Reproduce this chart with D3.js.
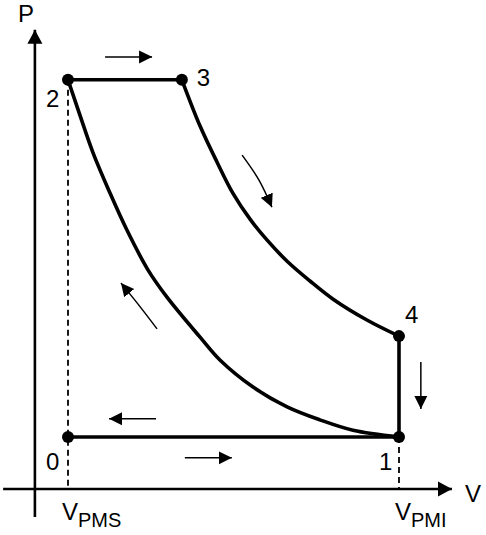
<!DOCTYPE html>
<head>
  <meta charset="utf-8">
  <title>Ciclo Otto: diagrama P-V</title>
  <script src="https://d3js.org/d3.v7.min.js"></script>
  <style>
    body { margin: 0; background: #fff; }
    text { font-family: "Liberation Sans", Arial, sans-serif; fill: #000; }
  </style>
</head>
<body>
<svg width="486" height="535"></svg>
<script>

// Volumes in units of V_PMS (V_PMS = 1, V_PMI = 11), pressures in arbitrary units
var stateNames = ["0", "1", "2", "3", "4"];
var stateV = [1, 11, 1, 4.44, 11];
var stateP = [1, 1, 7.87, 7.87, 2.94];

// compression 1 -> 2 (listed from 2 to 1)
var compV = [1, 1.36, 1.76, 2.27, 2.78, 3.42, 3.99, 4.99, 5.59, 6.59, 7.62, 8.61, 9.61, 11];
var compP = [7.87, 7.19, 6.46, 5.69, 4.98, 4.21, 3.69, 2.92, 2.48, 1.96, 1.58, 1.33, 1.13, 1.0];

// expansion 3 -> 4
var expV = [4.44, 4.99, 5.50, 5.98, 6.50, 7.01, 7.62, 8.31, 9.01, 10.03, 11];
var expP = [7.87, 6.98, 6.29, 5.69, 5.19, 4.79, 4.38, 4.0, 3.65, 3.25, 2.94];

// direction arrows (tail ... tip)
var arrowV = [[2.12, 3.54], [3.66, 2.24], [4.53, 5.95], [11.66, 11.66], [6.26, 6.77, 7.16], [3.69, 3.11, 2.60]];
var arrowP = [[8.31, 8.31], [1.35, 1.35], [0.60, 0.60], [2.44, 1.54], [6.42, 5.94, 5.42], [3.08, 3.56, 3.96]];

var axisLabels = ["PMS", "PMI"];
var axisLabelV = [1, 11];

var svg = d3.select("svg");
svg.append("rect").attr("width", 486).attr("height", 535).attr("fill", "#fff");

var x = d3.scaleLinear().domain([1, 11]).range([68, 399]);
var y = d3.scaleLinear().domain([0, 8]).range([489, 73]);

var defs = svg.append("defs");
defs.append("marker").attr("id", "head")
    .attr("markerUnits", "userSpaceOnUse")
    .attr("viewBox", "0 -7 13 14").attr("refX", 13).attr("refY", 0)
    .attr("markerWidth", 13).attr("markerHeight", 14).attr("orient", "auto")
  .append("path").attr("d", "M0,-6.5L13,0L0,6.5Z").attr("fill", "#000");
defs.append("marker").attr("id", "axishead")
    .attr("markerUnits", "userSpaceOnUse")
    .attr("viewBox", "0 -8 14 16").attr("refX", 14).attr("refY", 0)
    .attr("markerWidth", 14).attr("markerHeight", 16).attr("orient", "auto")
  .append("path").attr("d", "M0,-7.5L14,0L0,7.5Z").attr("fill", "#000");

// axes
svg.append("line")
    .attr("x1", x(0)).attr("y1", y(-0.54)).attr("x2", x(0)).attr("y2", y(8.83))
    .attr("stroke", "#000").attr("stroke-width", 2.6).attr("marker-end", "url(#axishead)");
svg.append("line")
    .attr("x1", x(-0.96)).attr("y1", y(0)).attr("x2", x(12.6)).attr("y2", y(0))
    .attr("stroke", "#000").attr("stroke-width", 2.6).attr("marker-end", "url(#axishead)");

svg.append("text").attr("x", 18).attr("y", 22).attr("font-size", 24).text("P");
svg.append("text").attr("x", x(12.6) + 13).attr("y", y(0) + 13).attr("font-size", 24).text("V");

// dashed guides down to the V axis
svg.append("line")
    .attr("x1", x(1)).attr("y1", y(stateP[2])).attr("x2", x(1)).attr("y2", y(0))
    .attr("stroke", "#000").attr("stroke-width", 1.8).attr("stroke-dasharray", "6,4");
svg.append("line")
    .attr("x1", x(11)).attr("y1", y(stateP[1])).attr("x2", x(11)).attr("y2", y(0))
    .attr("stroke", "#000").attr("stroke-width", 1.8).attr("stroke-dasharray", "6,4");

var labels = svg.selectAll(".vlab").data(axisLabels).enter().append("text")
    .attr("class", "vlab").attr("font-size", 24)
    .attr("x", function(d, i) { return x(axisLabelV[i]) - (i === 0 ? 6 : 4); })
    .attr("y", y(0) + 31);
labels.append("tspan").text("V");
labels.append("tspan").attr("font-size", 20).attr("dy", 7).text(function(d) { return d; });

// cycle
var curveLine = d3.line().curve(d3.curveCatmullRom)
    .x(function(d) { return x(d[0]); }).y(function(d) { return y(d[1]); });
var straight = d3.line()
    .x(function(d) { return x(d[0]); }).y(function(d) { return y(d[1]); });
var cycle = svg.append("g").attr("fill", "none").attr("stroke", "#000").attr("stroke-width", 3.6);

cycle.append("path").attr("d", curveLine(d3.zip(compV, compP)));
cycle.append("path").attr("d", curveLine(d3.zip(expV, expP)));
cycle.append("path").attr("d", straight([[stateV[0], stateP[0]], [stateV[1], stateP[1]]]));
cycle.append("path").attr("d", straight([[stateV[2], stateP[2]], [stateV[3], stateP[3]]]));
cycle.append("path").attr("d", straight([[stateV[4], stateP[4]], [stateV[1], stateP[1]]]));

// direction arrows
var arrowLine = d3.line().curve(d3.curveNatural)
    .x(function(d) { return x(d[0]); }).y(function(d) { return y(d[1]); });
svg.selectAll(".arrow").data(arrowV).enter().append("path")
    .attr("class", "arrow")
    .attr("d", function(d, i) { return arrowLine(d3.zip(d, arrowP[i])); })
    .attr("fill", "none").attr("stroke", "#000").attr("stroke-width", 1.5)
    .attr("marker-end", "url(#head)");

// state points and numbers
var offsets = [[-22, 33], [-20, 33], [-22, 27], [15, 6], [6, -13]];
svg.selectAll(".pt").data(stateNames).enter().append("circle")
    .attr("class", "pt")
    .attr("cx", function(d, i) { return x(stateV[i]); })
    .attr("cy", function(d, i) { return y(stateP[i]); })
    .attr("r", 6).attr("fill", "#000");
svg.selectAll(".num").data(stateNames).enter().append("text")
    .attr("class", "num").attr("font-size", 24)
    .attr("x", function(d, i) { return x(stateV[i]) + offsets[i][0]; })
    .attr("y", function(d, i) { return y(stateP[i]) + offsets[i][1]; })
    .text(function(d) { return d; });

</script>
</body>
</html>
